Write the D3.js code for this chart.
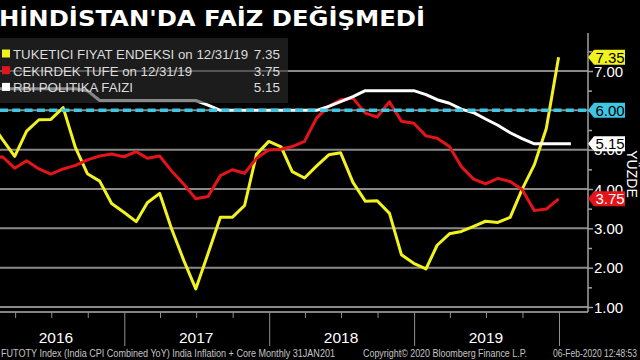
<!DOCTYPE html>
<html><head><meta charset="utf-8">
<script src="https://cdn.jsdelivr.net/npm/d3@7/dist/d3.min.js"></script>
<style>html,body{margin:0;padding:0;background:#000;overflow:hidden}svg{display:block}</style>
</head><body>
<svg id="c" width="640" height="360"></svg>
<script>
// ---------- DATA ----------
const title = "HİNDİSTAN'DA FAİZ DEĞİŞMEDİ";
const months = [
 "2016-01","2016-02","2016-03","2016-04","2016-05","2016-06","2016-07","2016-08","2016-09","2016-10","2016-11","2016-12",
 "2017-01","2017-02","2017-03","2017-04","2017-05","2017-06","2017-07","2017-08","2017-09","2017-10","2017-11","2017-12",
 "2018-01","2018-02","2018-03","2018-04","2018-05","2018-06","2018-07","2018-08","2018-09","2018-10","2018-11","2018-12",
 "2019-01","2019-02","2019-03","2019-04","2019-05","2019-06","2019-07","2019-08","2019-09","2019-10","2019-11","2019-12",
 "2020-01"];
// Tüketici fiyat endeksi (CPI YoY)
const cpi = [5.69,5.26,4.83,5.47,5.76,5.77,6.07,5.05,4.39,4.20,3.63,3.41,
             3.17,3.65,3.89,2.99,2.18,1.46,2.36,3.28,3.28,3.58,4.88,5.21,
             5.07,4.44,4.28,4.58,4.87,4.92,4.17,3.69,3.70,3.38,2.33,2.11,
             1.97,2.57,2.86,2.92,3.05,3.18,3.15,3.28,3.99,4.62,5.54,7.35];
// Çekirdek TÜFE
const core = [4.75,4.82,4.53,4.72,4.51,4.38,4.51,4.60,4.74,4.84,4.89,4.82,
              4.95,4.78,4.84,4.46,4.12,3.75,3.81,4.34,4.49,4.40,4.78,4.99,
              5.01,5.08,5.21,5.80,6.10,6.27,6.31,5.93,5.83,6.22,5.72,5.67,
              5.35,5.29,5.08,4.57,4.25,4.13,4.27,4.19,3.99,3.45,3.49,3.75];
// RBI politika faizi
const rbi = [6.55,6.55,6.55,6.55,6.55,6.55,6.55,6.55,6.50,6.25,6.25,6.25,
             6.25,6.25,6.25,6.25,6.25,6.25,6.13,6.00,6.00,6.00,6.00,6.00,
             6.00,6.00,6.00,6.00,6.10,6.22,6.35,6.50,6.50,6.50,6.50,6.50,
             6.40,6.27,6.18,6.03,5.94,5.78,5.62,5.43,5.28,5.15,5.15,5.15,
             5.15];
const refLevel = 6.00;
const yTicks = [1,2,3,4,5,6,7];
const yMinorTicks = [1.5,2.5,3.5,4.5,5.5,6.5,7.5];
const years = ["2016","2017","2018","2019","2020"];
const quarterStarts = ["2016-04","2016-07","2016-10","2017-04","2017-07","2017-10","2018-04","2018-07","2018-10","2019-04","2019-07","2019-10"];
const legendLabels = ["TUKETICI FIYAT ENDEKSI on 12/31/19","CEKIRDEK TUFE on 12/31/19","RBI POLITIKA FAIZI"];
const legendValues = ["7.35","3.75","5.15"];
const axisTitle = "YÜZDE";
const footer1 = "FUTOTY Index (India CPI Combined YoY) India Inflation + Core  Monthly 31JAN201";
const footer2 = "Copyright© 2020 Bloomberg Finance L.P.";
const footer3 = "06-Feb-2020 12:48:53";

// ---------- LAYOUT ----------
const W = 640, H = 360;
const plotL = 0, plotR = 588, plotT = 33, plotB = 312;
const C = {yellow:"#f2f21e", red:"#e3141a", white:"#ffffff", cyan:"#3ec6e2", grid:"#8a8a8a", axis:"#a0a0a0", text:"#ffffff"};
const F = "'Liberation Sans', Arial, sans-serif";

const monthEnd = s => { const [y,m] = s.split("-").map(Number); return new Date(y, m, 0); };
const monthStart = s => { const [y,m] = s.split("-").map(Number); return new Date(y, m-1, 1); };

const x = d3.scaleTime().domain([new Date(2016,0,1), new Date(2020,0,1)]).range([-21, 559]);
const y = d3.scaleLinear().domain([1,7]).range([307, 71]);

const svg = d3.select("#c");
svg.append("rect").attr("width",W).attr("height",H).attr("fill","#000");

svg.append("defs").append("clipPath").attr("id","clip")
  .append("rect").attr("x",plotL).attr("y",plotT).attr("width",plotR-plotL).attr("height",plotB-plotT);

// gridlines
svg.append("g").selectAll("line").data(yTicks).join("line")
  .attr("x1",plotL).attr("x2",plotR).attr("y1",d=>y(d)).attr("y2",d=>y(d))
  .attr("stroke",C.grid).attr("stroke-width",2);

// series
const line = d3.line().x(d=>x(d.date)).y(d=>y(d.v));
const mk = arr => arr.map((v,i)=>({date:monthEnd(months[i]), v}));
const g = svg.append("g").attr("clip-path","url(#clip)");
[[cpi,C.yellow],[core,C.red],[rbi,C.white]].forEach(([arr,col])=>{
  g.append("path").attr("d",line(mk(arr))).attr("fill","none").attr("stroke",col)
   .attr("stroke-width",3).attr("stroke-linejoin","round");
});
// dashed reference
g.append("line").attr("x1",plotL).attr("x2",plotR).attr("y1",y(refLevel)).attr("y2",y(refLevel))
  .attr("stroke",C.cyan).attr("stroke-width",3.5).attr("stroke-dasharray","8,4.3");

// legend
const lg = svg.append("g");
lg.append("rect").attr("x",0).attr("y",38).attr("width",288).attr("height",65)
  .attr("fill","rgb(48,48,48)").attr("fill-opacity",0.58);
const legCols = [C.yellow, C.red, C.white];
const legWidths = [235, 179, 120];
legendLabels.forEach((t,i)=>{
  const by = 59 + i*16.7;
  lg.append("rect").attr("x",2).attr("y",by-9.5).attr("width",8).attr("height",8).attr("fill",legCols[i]);
  lg.append("text").attr("x",13).attr("y",by).attr("fill","#dcdcdc").attr("font-family",F)
    .attr("font-size",13.5).attr("textLength",legWidths[i]).attr("lengthAdjust","spacingAndGlyphs").text(t);
  lg.append("text").attr("x",280).attr("y",by).attr("fill","#dcdcdc").attr("font-family",F)
    .attr("font-size",13.5).attr("text-anchor","end").text(legendValues[i]);
});

// right axis
const ya = svg.append("g").attr("transform",`translate(${plotR},0)`);
ya.call(d3.axisRight(y).tickValues(yTicks).tickSize(5).tickFormat(d3.format(".2f")));
ya.select(".domain").remove();
ya.selectAll(".tick line").attr("stroke",C.axis).attr("stroke-width",1.5);
ya.selectAll(".tick text").attr("fill",C.text).attr("font-family",F).attr("font-size",15).attr("x",6).attr("dy","0.34em");
const ym = svg.append("g").attr("transform",`translate(${plotR},0)`);
ym.call(d3.axisRight(y).tickValues(yMinorTicks).tickSize(4).tickFormat(""));
ym.select(".domain").remove();
ym.selectAll(".tick line").attr("stroke",C.axis).attr("stroke-width",1.5);
svg.append("line").attr("x1",plotR).attr("x2",plotR).attr("y1",plotT).attr("y2",plotB)
  .attr("stroke",C.axis).attr("stroke-width",1.5);

// bottom axis
svg.append("line").attr("x1",plotL).attr("x2",plotR).attr("y1",plotB).attr("y2",plotB)
  .attr("stroke","#b0b0b0").attr("stroke-width",1.5);
const xa = svg.append("g").attr("transform",`translate(0,${plotB})`);
xa.call(d3.axisBottom(x).tickValues(quarterStarts.map(monthStart)).tickSize(6).tickFormat(""));
xa.select(".domain").remove();
xa.selectAll(".tick line").attr("stroke","#909090");
const yearStarts = years.slice(1).map(s=>new Date(+s,0,1));
const xy = svg.append("g").attr("transform",`translate(0,${plotB})`);
xy.call(d3.axisBottom(x).tickValues(yearStarts).tickSize(34).tickFormat(""));
xy.select(".domain").remove();
xy.selectAll(".tick line").attr("stroke","#909090");
svg.append("g").selectAll("text").data(years.slice(0,4)).join("text")
  .attr("x",d=>Math.max(x(new Date(+d,6,1)), 56)).attr("y",343)
  .attr("text-anchor","middle").attr("fill",C.text).attr("font-family",F).attr("font-size",15.5).text(d=>d);

// value tags
const tags = [[cpi[cpi.length-1],C.yellow,"#000"],[refLevel,C.cyan,"#000"],[rbi[rbi.length-1],C.white,"#000"],[core[core.length-1],C.red,"#fff"]];
tags.forEach(([v,bg,fg])=>{
  const cy = y(v);
  svg.append("path").attr("d",`M${plotR},${cy} L${plotR+6},${cy-7.5} L${plotR+37},${cy-7.5} L${plotR+37},${cy+7.5} L${plotR+6},${cy+7.5} Z`)
    .attr("fill",bg);
  svg.append("text").attr("x",plotR+22).attr("y",cy).attr("dy","0.36em").attr("text-anchor","middle")
    .attr("fill",fg).attr("font-family",F).attr("font-size",15).text(d3.format(".2f")(v));
});

// axis title
svg.append("text").attr("transform","translate(627,174) rotate(90)").attr("text-anchor","middle")
  .attr("fill",C.text).attr("font-family",F).attr("font-size",14).text(axisTitle);

// footer
const ft = (t,x0,len)=>svg.append("text").attr("x",x0).attr("y",357).attr("fill","#c4c4c4")
  .attr("font-family",F).attr("font-size",10).attr("textLength",len).attr("lengthAdjust","spacingAndGlyphs").text(t);
ft(footer1,1,334); ft(footer2,363,164); ft(footer3,553,84);

// title
svg.append("text").attr("x",-1).attr("y",26).attr("fill","#fff")
  .attr("font-family","'DejaVu Sans', Verdana, sans-serif").attr("font-weight","bold").attr("font-size",22)
  .attr("textLength",426).attr("lengthAdjust","spacingAndGlyphs").text(title);
</script>
</body></html>
